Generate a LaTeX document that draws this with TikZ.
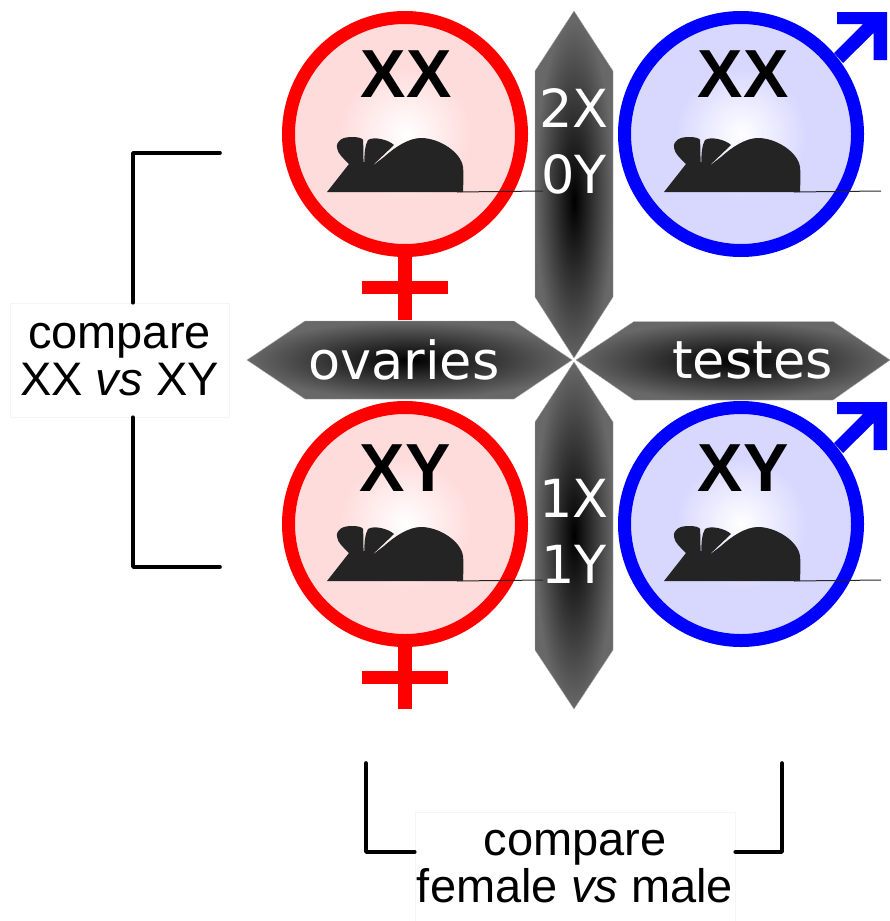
\documentclass[tikz,border=0pt]{standalone}
\usepackage{fontspec}
\setmainfont{Liberation Sans}
\newfontfamily\armfont{DejaVu Sans}
\usetikzlibrary{positioning}
\definecolor{pinkfill}{RGB}{255,220,220}
\definecolor{bluefill}{RGB}{216,216,255}
\definecolor{mousefill}{RGB}{36,36,36}
\definecolor{armedge}{RGB}{104,104,104}
\pgfdeclareradialshading{armshade}{\pgfpoint{0bp}{0bp}}{color(0bp)=(black); color(25bp)=(armedge); color(50bp)=(armedge)}
\pgfdeclareradialshading{armtopshade}{\pgfpoint{0bp}{-2.5bp}}{color(0bp)=(black); color(25bp)=(armedge); color(50bp)=(armedge)}
\pgfdeclareradialshading{femshade}{\pgfpoint{0bp}{0bp}}{color(0bp)=(white); color(14bp)=(pinkfill); color(50bp)=(pinkfill)}
\pgfdeclareradialshading{malshade}{\pgfpoint{0bp}{0bp}}{color(0bp)=(white); color(14bp)=(bluefill); color(50bp)=(bluefill)}
\tikzset{
  ring/.style={line width=13},
  femring/.style={ring, draw=red, shading=femshade},
  malring/.style={ring, draw=blue, shading=malshade},
  geno/.style={font=\fontsize{68}{68}\selectfont\bfseries, inner sep=0},
  armlabel/.style={font=\armfont\fontsize{52.5}{66}\selectfont, text=white, align=center, inner sep=0},
  cmplabel/.style={fill=white, draw=black!4, line width=0.5, align=center, inner sep=0, font=\fontsize{47}{47}\selectfont},
  bracket/.style={line width=3.6, line cap=round, line join=round},
  arm/.style={shading=armshade, draw=black!35, line width=0.4},
  tail/.style={line width=1, black!85}
}
% mouse with its base line, nose at (#1,#2)
\newcommand{\mouse}[3]{
  \begin{scope}[shift={(#1,#2)}]
    \fill[mousefill] (0,0) -- (22,-28)
      .. controls (16,-34) and (11,-38) .. (10,-44)
      .. controls (9,-52) and (16,-55) .. (25,-55)
      .. controls (31,-55) and (35,-54) .. (36,-52)
      .. controls (36.5,-44) and (36.5,-37) .. (36.5,-30)
      -- (37.3,-30)
      .. controls (37.5,-38) and (37.5,-46) .. (41,-52)
      .. controls (47,-56) and (62,-52) .. (67,-47)
      -- (44,-25)
      -- (57,-35)
      .. controls (68,-45) and (82,-54) .. (94,-54)
      .. controls (112,-54) and (134,-40) .. (136,-25)
      .. controls (137,-15) and (136,-5) .. (136,0) -- cycle;
    \draw[tail] (130,0) -- (#3,-1);
  \end{scope}
}
\begin{document}
\begin{tikzpicture}[x=1pt, y=-1pt]
  \useasboundingbox (0,0) rectangle (890,921);
  % symbols
  \fill[red] (398,255) rectangle (412,320);
  \fill[red] (362,281) rectangle (448,294);
  \fill[red] (398,645) rectangle (412,709);
  \fill[red] (362,671) rectangle (448,684);
  \fill[blue] (834,53) -- (863,24) -- (837,24) -- (837,12) -- (887,12) -- (887,60)
    -- (873.5,60) -- (873.5,33) -- (843,63) -- cycle;
  \fill[blue] (834,443) -- (863,414) -- (837,414) -- (837,402) -- (887,402) -- (887,450)
    -- (873.5,450) -- (873.5,423) -- (843,453) -- cycle;
  \shade[femring] (405,134) circle (116.5);
  \shade[malring] (741,134) circle (116.5);
  \shade[femring] (405,524) circle (116.5);
  \shade[malring] (741,524) circle (116.5);
  \node[geno] (xxF) at (406,74) {XX};
  \node[geno] (xxM) at (743,74) {XX};
  \node[geno] (xyF) at (405,468) {XY};
  \node[geno] (xyM) at (743,468) {XY};
  % arms
  \path[arm, shading=armtopshade] (574,11) -- (613,71) -- (613,297) -- (574,358) -- (535,297) -- (535,71) -- cycle;
  \path[arm] (574,362) -- (613,422) -- (613,650) -- (574,709) -- (535,650) -- (535,422) -- cycle;
  \path[arm] (247,360) -- (305,321) -- (514,321) -- (572,360) -- (514,399) -- (305,399) -- cycle;
  \path[arm] (576,360) -- (634,321.5) -- (833,321.5) -- (890,360) -- (833,400) -- (634,400) -- cycle;
  \mouse{327}{192}{216}
  \mouse{664}{192}{217}
  \mouse{327}{581}{216}
  \mouse{664}{581}{217}
  \node[armlabel] (ovaries) at (404,360) {ovaries};
  \node[armlabel] (testes) at (752.5,360) {testes};
  \node[armlabel] (dose2) at (574,141) {2X\\0Y};
  \node[armlabel] (dose1) at (574,531) {1X\\1Y};
  % comparisons
  \node[cmplabel, minimum width=219, minimum height=114] (cmpXX) at (119.5,360) {compare\\XX \textit{vs} XY};
  \node[cmplabel, minimum width=320, minimum height=110] (cmpSex) at (575,867) {compare\\female \textit{vs} male};
  \coordinate (cornerA) at (133,153);
  \coordinate (cornerB) at (133,567);
  \coordinate (cornerC) at (366,852);
  \coordinate (cornerD) at (782,852);
  \coordinate (endA) at (220,153);
  \coordinate (endB) at (220,567);
  \coordinate (endC) at (366,763);
  \coordinate (endD) at (782,763);
  \draw[bracket] (endA) -- (cornerA) -- (cornerA |- cmpXX.north);
  \draw[bracket] (endB) -- (cornerB) -- (cornerB |- cmpXX.south);
  \draw[bracket] (endC) -- (cornerC) -- (cornerC -| cmpSex.west);
  \draw[bracket] (endD) -- (cornerD) -- (cornerD -| cmpSex.east);
\end{tikzpicture}
\end{document}
